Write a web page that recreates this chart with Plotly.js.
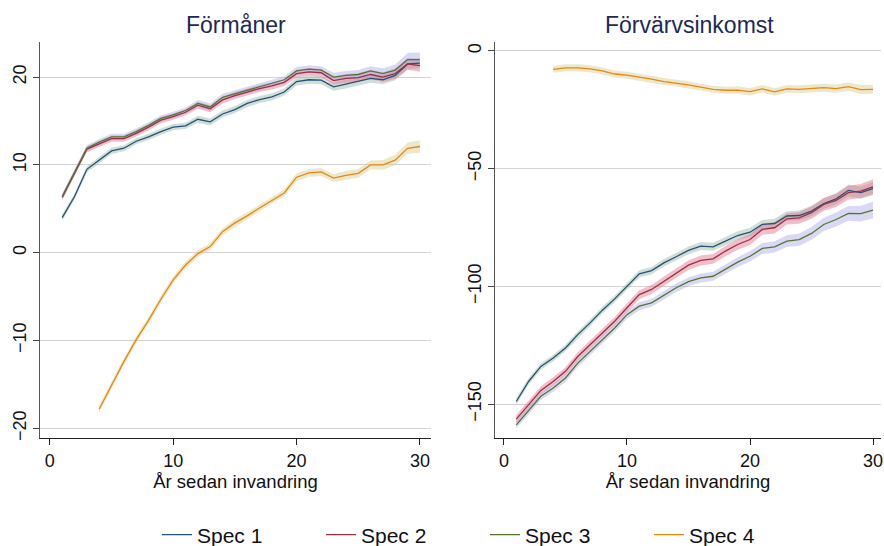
<!DOCTYPE html>
<html>
<head>
<meta charset="utf-8">
<script src="https://cdn.plot.ly/plotly-3.0.1.min.js"></script>
<style>html,body{margin:0;padding:0;background:#fff;}#chart{width:884px;height:546px;}</style>
</head>
<body>
<div id="chart"></div>
<script>
const years = [1,2,3,4,5,6,7,8,9,10,11,12,13,14,15,16,17,18,19,20,21,22,23,24,25,26,27,28,29,30];
const seriesNames = ["Spec 1","Spec 2","Spec 3","Spec 4"];
const panelTitles = ["Förmåner","Förvärvsinkomst"];
const xTitle = "År sedan invandring";

// Förmåner (left panel)
const formaner1 = [4.0,6.4,9.5,10.5,11.6,11.9,12.7,13.2,13.8,14.3,14.45,15.2,14.9,15.8,16.3,17.0,17.45,17.75,18.3,19.5,19.7,19.65,18.9,19.2,19.5,19.85,19.7,20.2,21.5,21.6];
const formaner2 = [6.3,9.1,11.8,12.4,13.0,13.0,13.6,14.3,15.1,15.5,16.0,16.8,16.4,17.4,17.9,18.3,18.7,19.0,19.4,20.4,20.6,20.5,19.6,19.85,19.95,20.3,20.0,20.4,21.5,21.3];
const formaner3 = [6.4,9.2,11.9,12.6,13.2,13.2,13.8,14.5,15.3,15.7,16.2,17.0,16.6,17.7,18.1,18.5,18.9,19.3,19.7,20.7,20.9,20.8,20.0,20.2,20.3,20.7,20.4,20.8,22.0,22.0];
const formaner4 = [null,null,null,-17.8,-15.1,-12.4,-9.9,-7.7,-5.3,-3.1,-1.4,-0.1,0.7,2.4,3.4,4.2,5.1,6.0,6.8,8.6,9.1,9.2,8.5,8.8,9.05,10.0,10.0,10.55,11.9,12.1];
// half-widths of confidence bands (left)
const formanerCI1 = [0.35,0.35,0.35,0.35,0.35,0.35,0.35,0.35,0.35,0.35,0.35,0.4,0.4,0.4,0.4,0.4,0.4,0.4,0.4,0.45,0.45,0.45,0.45,0.5,0.5,0.5,0.5,0.55,0.6,0.6];
const formanerCI2 = [0.35,0.35,0.35,0.35,0.35,0.35,0.35,0.35,0.35,0.35,0.35,0.4,0.4,0.4,0.4,0.4,0.4,0.4,0.4,0.45,0.45,0.45,0.45,0.5,0.5,0.5,0.55,0.6,0.65,0.7];
const formanerCI3 = [0.35,0.35,0.35,0.35,0.35,0.35,0.35,0.35,0.35,0.35,0.35,0.4,0.4,0.4,0.4,0.4,0.4,0.4,0.4,0.45,0.45,0.45,0.5,0.5,0.5,0.55,0.6,0.65,0.75,0.8];
const formanerCI4 = [null,null,null,0.4,0.4,0.4,0.4,0.4,0.4,0.4,0.4,0.4,0.4,0.4,0.4,0.4,0.4,0.4,0.4,0.45,0.45,0.45,0.45,0.5,0.5,0.5,0.55,0.6,0.65,0.7];

// Förvärvsinkomst (right panel)
const forvarv1 = [-148.9,-140.4,-134.0,-130.4,-126.2,-120.5,-115.5,-110.1,-105.3,-99.9,-94.7,-93.3,-90.0,-87.4,-84.7,-82.9,-83.2,-80.8,-78.4,-77.0,-73.7,-73.3,-70.1,-69.9,-68.0,-64.8,-62.8,-59.2,-60.2,-58.5];
const forvarv2 = [-156.4,-150.3,-144.2,-140.4,-136.1,-129.8,-124.8,-119.8,-114.8,-109.1,-103.5,-101.3,-97.8,-94.3,-91.0,-89.0,-88.3,-85.0,-82.2,-80.1,-75.8,-75.1,-71.3,-70.9,-68.7,-65.2,-63.5,-60.2,-59.5,-57.7];
const forvarv3 = [-158.8,-152.7,-146.7,-143.2,-138.9,-132.6,-127.6,-122.6,-117.7,-112.0,-108.4,-107.0,-103.8,-100.6,-98.0,-96.4,-95.7,-92.6,-89.7,-87.2,-83.9,-83.2,-80.8,-80.1,-77.5,-73.7,-71.6,-69.0,-69.1,-67.6];
const forvarv4 = [null,null,null,-7.8,-7.2,-7.2,-7.6,-8.5,-9.8,-10.3,-11.0,-12.0,-13.0,-13.6,-14.4,-15.4,-16.3,-16.7,-16.6,-17.3,-16.1,-17.4,-16.1,-16.3,-15.9,-15.6,-16.0,-15.2,-16.4,-16.3];
const forvarvCI1 = [1.4,1.4,1.4,1.4,1.4,1.4,1.4,1.4,1.4,1.5,1.5,1.5,1.6,1.6,1.6,1.7,1.7,1.8,1.8,1.9,1.9,2.0,2.0,2.1,2.2,2.3,2.4,2.5,2.6,2.8];
const forvarvCI2 = [1.8,1.8,1.8,1.8,1.8,1.8,1.8,1.8,1.8,1.9,1.9,1.9,2.0,2.0,2.0,2.1,2.1,2.2,2.2,2.3,2.3,2.4,2.4,2.5,2.6,2.7,2.8,2.9,3.0,3.2];
const forvarvCI3 = [1.6,1.6,1.6,1.6,1.6,1.6,1.6,1.6,1.6,1.7,1.7,1.7,1.8,1.8,1.8,1.9,1.9,2.0,2.1,2.2,2.3,2.4,2.5,2.6,2.7,2.8,3.0,3.1,3.3,3.5];
const forvarvCI4 = [null,null,null,1.5,1.5,1.5,1.5,1.5,1.5,1.5,1.5,1.5,1.5,1.5,1.5,1.5,1.5,1.5,1.6,1.6,1.6,1.6,1.6,1.7,1.7,1.7,1.8,1.8,1.9,1.9];

const lineColors = ["#24527a","#9b2f45","#55752f","#e8870f"];
const bandColors = ["rgba(150,185,165,0.45)","rgba(225,110,140,0.45)","rgba(170,170,235,0.45)","rgba(215,205,140,0.45)"];

function band(xs, ys, hw, color, xa, ya) {
  const fx = [], fy = [], bx = [], by = [];
  for (let i = 0; i < xs.length; i++) {
    if (ys[i] === null) continue;
    fx.push(xs[i]); fy.push(ys[i] + hw[i]);
    bx.unshift(xs[i]); by.unshift(ys[i] - hw[i]);
  }
  return {x: fx.concat(bx), y: fy.concat(by), type: "scatter", mode: "lines",
    fill: "toself", fillcolor: color, line: {width: 0}, hoverinfo: "skip",
    showlegend: false, xaxis: xa, yaxis: ya};
}
function line(xs, ys, k, xa, ya, legend) {
  return {x: xs, y: ys, type: "scatter", mode: "lines", name: seriesNames[k],
    line: {color: lineColors[k], width: 1.3}, showlegend: legend, xaxis: xa, yaxis: ya,
    connectgaps: false};
}

const leftVals = [formaner1, formaner2, formaner3, formaner4];
const leftCI = [formanerCI1, formanerCI2, formanerCI3, formanerCI4];
const rightVals = [forvarv1, forvarv2, forvarv3, forvarv4];
const rightCI = [forvarvCI1, forvarvCI2, forvarvCI3, forvarvCI4];

const traces = [];
for (let k = 0; k < 4; k++) traces.push(band(years, leftVals[k], leftCI[k], bandColors[k], "x", "y"));
for (let k = 0; k < 4; k++) traces.push(band(years, rightVals[k], rightCI[k], bandColors[k], "x2", "y2"));
for (let k = 0; k < 4; k++) traces.push(line(years, leftVals[k], k, "x", "y", true));
for (let k = 0; k < 4; k++) traces.push(line(years, rightVals[k], k, "x2", "y2", false));

const fontFam = "Liberation Sans, Arial, sans-serif";
const W = 884, H = 546;
const yDom = [(H - 438) / H, (H - 42) / H];

const xCommon = {
  tickmode: "array", tickvals: [0,10,20,30], ticks: "outside", ticklen: 6, tickcolor: "#222",
  showline: true, linecolor: "#222", linewidth: 1.3, showgrid: false, zeroline: false,
  tickfont: {size: 18, color: "#111", family: fontFam}, ticklabeloverflow: "allow",
  title: {text: xTitle, font: {size: 18.5, color: "#111", family: fontFam}, standoff: 2},
  automargin: false, fixedrange: true
};
const yCommon = {
  ticks: "outside", ticklen: 6, tickcolor: "#444", tickangle: -90,
  showline: true, linecolor: "#555", linewidth: 1.3, showgrid: true, gridcolor: "#d3d3d3", gridwidth: 1,
  zeroline: false, tickfont: {size: 18, color: "#111", family: fontFam}, ticklabeloverflow: "allow",
  automargin: false, fixedrange: true
};

const layout = {
  width: W, height: H,
  margin: {l: 0, r: 0, t: 0, b: 0, autoexpand: false},
  paper_bgcolor: "#fff", plot_bgcolor: "#fff",
  font: {family: fontFam},
  showlegend: true,
  legend: {orientation: "h", x: 157 / W, xanchor: "left", y: 11 / H, yanchor: "middle",
    font: {size: 21, color: "#111", family: fontFam}, entrywidth: 119, entrywidthmode: "pixels",
    traceorder: "normal", bgcolor: "rgba(0,0,0,0)"},
  xaxis: Object.assign({}, xCommon, {domain: [40 / W, 431 / W], range: [-0.8, 30.9], anchor: "y"}),
  yaxis: Object.assign({}, yCommon, {domain: yDom, range: [-21.1, 24.0], tickvals: [-20,-10,0,10,20], anchor: "x"}),
  xaxis2: Object.assign({}, xCommon, {domain: [495 / W, 881 / W], range: [-0.73, 30.65], anchor: "y2"}),
  yaxis2: Object.assign({}, yCommon, {domain: yDom, range: [-164.4, 3.8], tickvals: [-150,-100,-50,0], anchor: "x2"}),
  annotations: [
    {text: panelTitles[0], xref: "paper", yref: "paper", x: (40 + 431) / 2 / W, y: (H - 25) / H,
     xanchor: "center", yanchor: "middle", showarrow: false, font: {size: 23, color: "#1e2a55", family: fontFam}},
    {text: panelTitles[1], xref: "paper", yref: "paper", x: (495 + 884) / 2 / W, y: (H - 25) / H,
     xanchor: "center", yanchor: "middle", showarrow: false, font: {size: 23, color: "#1e2a55", family: fontFam}}
  ]
};

Plotly.newPlot("chart", traces, layout, {displayModeBar: false, staticPlot: true});
</script>
</body>
</html>
